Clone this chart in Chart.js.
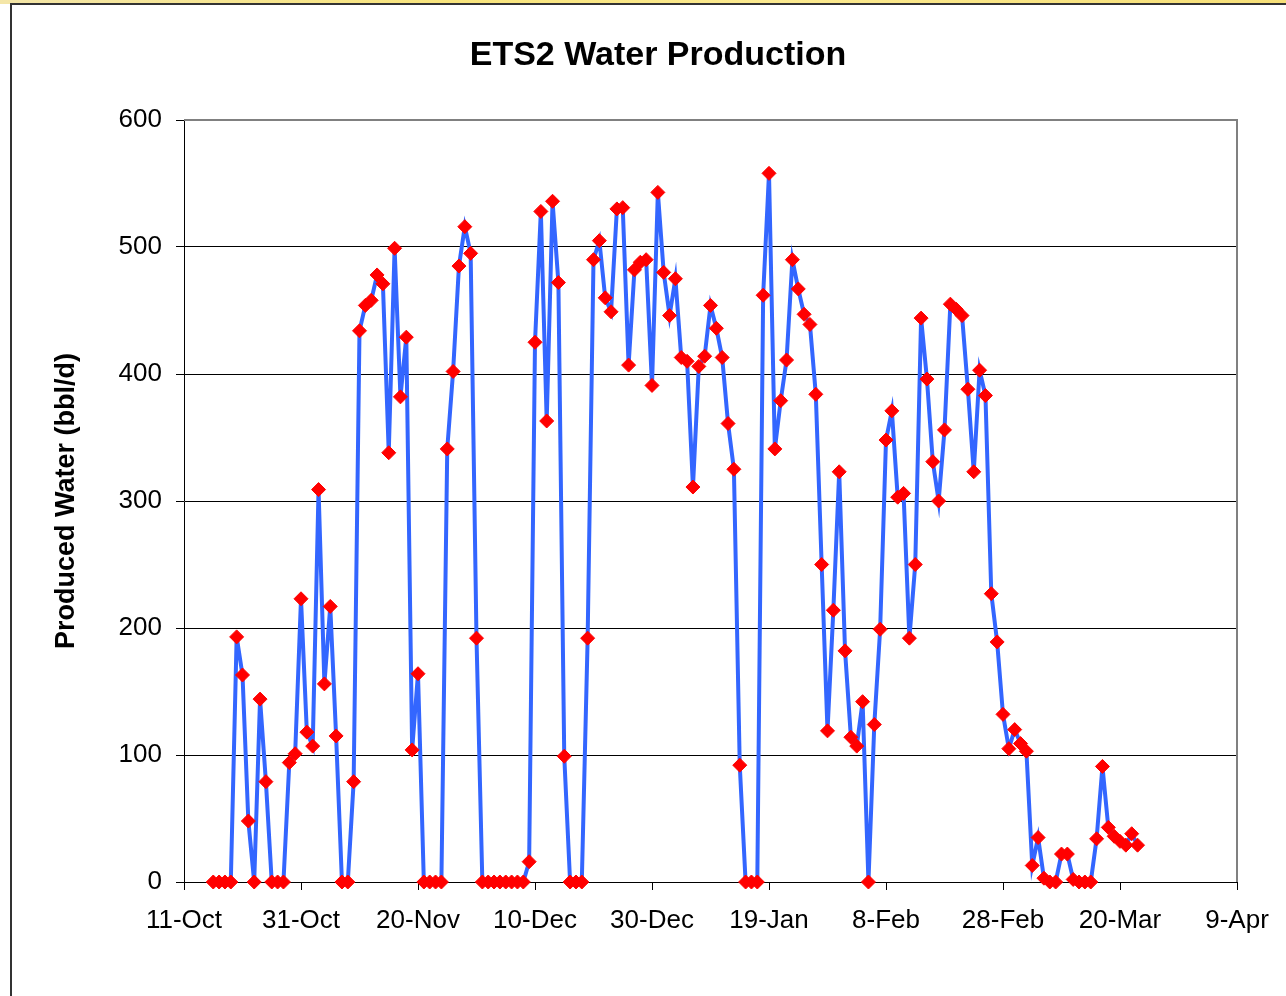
<!DOCTYPE html>
<html>
<head>
<meta charset="utf-8">
<title>ETS2 Water Production</title>
<script src="https://cdn.jsdelivr.net/npm/chart.js@4.4.1/dist/chart.umd.min.js"></script>
<style>
    html, body { margin: 0; padding: 0; background: #fff; }
    body { width: 1286px; height: 996px; position: relative; overflow: hidden; }
    .strip {
        position: absolute; left: 0; top: 0; width: 1286px; height: 4px;
        background: linear-gradient(to right, #f4e6a8, #f8e47c 35%, #fbe98f 60%, #f6df78);
    }
    .frame {
        position: absolute; left: 10px; top: 3px; width: 1400px; height: 1100px;
        border-left: 2px solid #333; border-top: 2px solid #333;
    }
    .wrap { position: absolute; left: 0; top: 0; width: 1286px; height: 996px; }
</style>
</head>
<body>
<div class="strip"></div>
<div class="frame"></div>
<div class="wrap"><canvas id="waterChart"></canvas></div>
<script>
const chartTitle = 'ETS2 Water Production';
const yTitle = 'Produced Water (bbl/d)';

// x axis runs in days counted from 11-Oct, one label every 20 days
const tickLabels = ['11-Oct', '31-Oct', '20-Nov', '10-Dec', '30-Dec', '19-Jan', '8-Feb', '28-Feb', '20-Mar', '9-Apr'];

// daily readings, first one on 16-Oct (day 5)
const firstDay = 5;
const octWater = [0, 0, 0, 0, 193, 163, 48, 0, 144, 79, 0, 0, 0, 94, 101, 223];
const novWater = [118, 107, 309, 156, 217, 115, 0, 0, 79, 434,
    454, 458, 478, 471, 338, 499, 382, 429, 104, 164,
    0, 0, 0, 0, 341, 402, 485, 516, 495, 192];
const decWater = [0, 0, 0, 0, 0, 0, 0, 0, 16, 425,
    528, 363, 536, 472, 99, 0, 0, 0, 192, 490,
    505, 460, 449, 530, 531, 407, 482, 488, 490, 391, 543];
const janWater = [480, 446, 475, 413, 410, 311, 406, 414, 454, 436,
    413, 361, 325, 92, 0, 0, 0, 462, 558, 341,
    379, 411, 490, 467, 447, 439, 384, 250, 119, 214, 323];
const febWater = [182, 114, 107, 142, 0, 124, 199, 348, 371, 303,
    306, 192, 250, 444, 396, 331, 300, 356, 455, 451,
    446, 388, 323, 403, 383, 227, 189, 132];
const marWater = [105, 120, 109, 103, 13, 35, 3, 0, 0, 22,
    22, 2, 0, 0, 0, 34, 91, 43, 36, 32,
    29, 38, 29];

const water = [].concat(octWater, novWater, decWater, janWater, febWater, marWater);
const points = water.map((v, i) => ({x: firstDay + i, y: v}));

const fontFamily = '"Liberation Sans", Arial, Helvetica, sans-serif';

const titlePlugin = {
    id: 'chartTitle',
    afterDraw(chart) {
        const ctx = chart.ctx;
        ctx.save();
        ctx.font = 'bold 34px ' + fontFamily;
        ctx.fillStyle = '#000';
        ctx.textAlign = 'center';
        ctx.textBaseline = 'middle';
        ctx.fillText(chartTitle, 658, 56);
        ctx.restore();
    }
};

// grey frame on top and right of the plot area
const plotFrame = {
    id: 'plotFrame',
    beforeDatasetsDraw(chart) {
        const {ctx, chartArea: a} = chart;
        ctx.save();
        ctx.strokeStyle = '#808080';
        ctx.lineWidth = 2;
        ctx.beginPath();
        ctx.moveTo(a.left, a.top);
        ctx.lineTo(a.right, a.top);
        ctx.lineTo(a.right, a.bottom);
        ctx.stroke();
        ctx.restore();
    }
};

const ctx = document.getElementById('waterChart').getContext('2d');
const waterChart = new Chart(ctx, {
    type: 'line',
    data: {
        datasets: [{
            label: 'Water',
            data: points,
            borderColor: '#3366ff',
            borderWidth: 4,
            tension: 0,
            pointStyle: 'rectRot',
            pointRadius: 7,
            pointBorderWidth: 1,
            pointBackgroundColor: '#ff0000',
            pointBorderColor: '#ff0000',
            clip: false
        }]
    },
    options: {
        responsive: true,
        maintainAspectRatio: false,
        animation: false,
        layout: {padding: {top: 120, right: 49, left: 0, bottom: 0}},
        plugins: {
            legend: {display: false},
            tooltip: {enabled: false}
        },
        scales: {
            x: {
                type: 'linear',
                min: 0,
                max: 180,
                afterFit: (scale) => { scale.height = 114; },
                ticks: {
                    stepSize: 20,
                    padding: 15,
                    color: '#000',
                    font: {family: fontFamily, size: 26},
                    maxRotation: 0,
                    autoSkip: false,
                    callback: (v) => tickLabels[v / 20]
                },
                grid: {drawOnChartArea: false, drawTicks: true, tickLength: 8, color: '#000'},
                border: {color: '#000', width: 1}
            },
            y: {
                min: 0,
                max: 600,
                afterFit: (scale) => { scale.width = 184; },
                ticks: {
                    stepSize: 100,
                    padding: 14,
                    color: '#000',
                    font: {family: fontFamily, size: 26}
                },
                grid: {
                    color: (c) => c.tick && c.tick.value === 600 ? 'rgba(0,0,0,0)' : '#000',
                    tickColor: '#000',
                    tickLength: 8,
                    lineWidth: 1
                },
                border: {color: '#000', width: 1},
                title: {
                    display: true,
                    text: yTitle,
                    color: '#000',
                    font: {family: fontFamily, size: 27, weight: 'bold'},
                    padding: {top: 50, bottom: 0}
                }
            }
        }
    },
    plugins: [titlePlugin, plotFrame]
});
</script>
</body>
</html>
